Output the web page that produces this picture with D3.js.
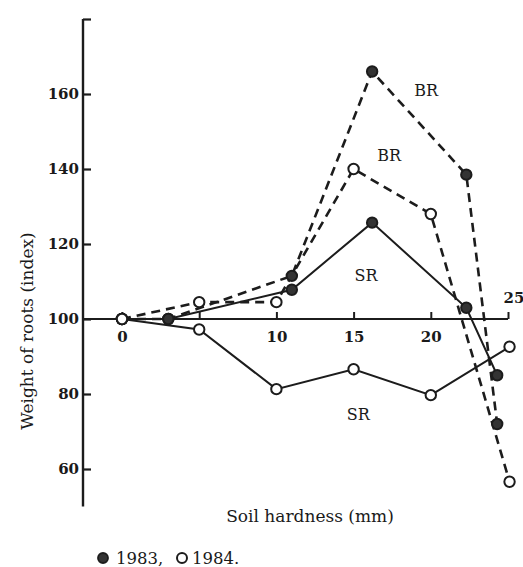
<!DOCTYPE html>
<html>
<head>
<meta charset="utf-8">
<script src="https://cdn.jsdelivr.net/npm/d3@7"></script>
<style>
  html, body { margin: 0; padding: 0; background: #fff; }
  svg { display: block; }
  text { font-family: "DejaVu Serif", "Liberation Serif", serif; fill: #1a1a1a; }
</style>
</head>
<body>
<svg id="chart" width="523" height="567"></svg>
<script>
// Soil hardness (mm) at each sampling point, per year
const hardness1983 = [0, 3, 11, 16.2, 22.3, 24.3];
const hardness1984 = [0, 5, 10, 15, 20, 25.1];

// Root weight index (0 mm = 100): BR = brace roots, SR = soil roots
const br1983 = [100, 100, 111.5, 166, 138.5, 72];
const sr1983 = [100, 100, 107.8, 125.7, 103, 85];
const br1984 = [100, 104.5, 104.5, 140, 128, 56.6];
const sr1984 = [100, 97.2, 81.3, 86.6, 79.7, 92.6];

const yTicks = [60, 80, 100, 120, 140, 160, 180];
const yTickLabels = ["60", "80", "100", "120", "140", "160", ""];
const xTicks = [0, 5, 10, 15, 20, 25];
const xTickLabels = ["0", "", "10", "15", "20", ""];

const series = [
  { xs: hardness1983, ys: br1983, filled: true,  dashed: true,  label: "BR", lx: 19.7, ly: 161 },
  { xs: hardness1983, ys: sr1983, filled: true,  dashed: false, label: "SR", lx: 15.8, ly: 111.5 },
  { xs: hardness1984, ys: br1984, filled: false, dashed: true,  label: "BR", lx: 17.3, ly: 143.5 },
  { xs: hardness1984, ys: sr1984, filled: false, dashed: false, label: "SR", lx: 15.3, ly: 74.5 }
];

const svg = d3.select("#chart");
const ink = "#1c1c1c";

const x = d3.scaleLinear().domain([0, 25]).range([122, 508]);
const y = d3.scaleLinear().domain([50, 180]).range([506.5, 19]);
const axisX = 83;
const baseY = y(100);

// y axis (ticks pointing into the plot)
const gy = svg.append("g")
  .attr("transform", `translate(${axisX},0)`)
  .call(d3.axisLeft(y).tickValues(yTicks).tickSize(-8).tickPadding(4)
    .tickFormat((d, i) => yTickLabels[i]));
gy.select(".domain").attr("d", `M0,${y(50)}V${y(180)}`).attr("stroke", ink).attr("stroke-width", 2.4);
gy.selectAll(".tick line").attr("stroke", ink).attr("stroke-width", 2.2);
gy.selectAll(".tick text").attr("font-size", 15).attr("font-weight", "bold").attr("fill", ink);

// x axis drawn on the 100 index line
const gx = svg.append("g")
  .attr("transform", `translate(0,${baseY})`)
  .call(d3.axisBottom(x).tickValues(xTicks).tickSize(-7).tickPadding(12)
    .tickFormat((d, i) => xTickLabels[i]));
gx.select(".domain").attr("d", `M${axisX},0H${x(25)}`).attr("stroke", ink).attr("stroke-width", 2.2);
gx.selectAll(".tick line").attr("stroke", ink).attr("stroke-width", 2);
gx.selectAll(".tick text").attr("font-size", 15).attr("font-weight", "bold").attr("fill", ink);

svg.append("text")
  .attr("x", x(25) + 6).attr("y", baseY - 16)
  .attr("text-anchor", "middle").attr("font-size", 15).attr("font-weight", "bold")
  .text("25");

// lines
const line = d3.line().x(d => x(d[0])).y(d => y(d[1]));
series.forEach(s => {
  const pts = s.xs.map((v, i) => [v, s.ys[i]]);
  svg.append("path")
    .attr("d", line(pts))
    .attr("fill", "none")
    .attr("stroke", ink)
    .attr("stroke-width", s.dashed ? 2.6 : 2)
    .attr("stroke-dasharray", s.dashed ? "9,6" : null);
});

// markers
series.forEach(s => {
  svg.append("g").selectAll("circle")
    .data(s.xs.map((v, i) => [v, s.ys[i]]))
    .join("circle")
    .attr("cx", d => x(d[0]))
    .attr("cy", d => y(d[1]))
    .attr("r", 5.2)
    .attr("fill", s.filled ? "#333" : "#fff")
    .attr("stroke", ink)
    .attr("stroke-width", 2);
});

// series labels
series.forEach(s => {
  svg.append("text")
    .attr("x", x(s.lx)).attr("y", y(s.ly))
    .attr("text-anchor", "middle").attr("dominant-baseline", "central")
    .attr("font-size", 16)
    .text(s.label);
});

// axis titles
svg.append("text")
  .attr("transform", `translate(27,331) rotate(-90)`)
  .attr("text-anchor", "middle").attr("dominant-baseline", "central")
  .attr("font-size", 17)
  .text("Weight of roots (index)");

svg.append("text")
  .attr("x", 310).attr("y", 522)
  .attr("text-anchor", "middle")
  .attr("font-size", 17)
  .text("Soil hardness (mm)");

// legend
const legendY = 558;
svg.append("circle").attr("cx", 103).attr("cy", legendY).attr("r", 5)
  .attr("fill", "#333").attr("stroke", ink).attr("stroke-width", 1.8);
svg.append("text").attr("x", 116).attr("y", legendY + 6).attr("font-size", 16.5).text("1983,");
svg.append("circle").attr("cx", 182).attr("cy", legendY).attr("r", 5)
  .attr("fill", "#fff").attr("stroke", ink).attr("stroke-width", 2);
svg.append("text").attr("x", 192).attr("y", legendY + 6).attr("font-size", 16.5).text("1984.");
</script>
</body>
</html>
